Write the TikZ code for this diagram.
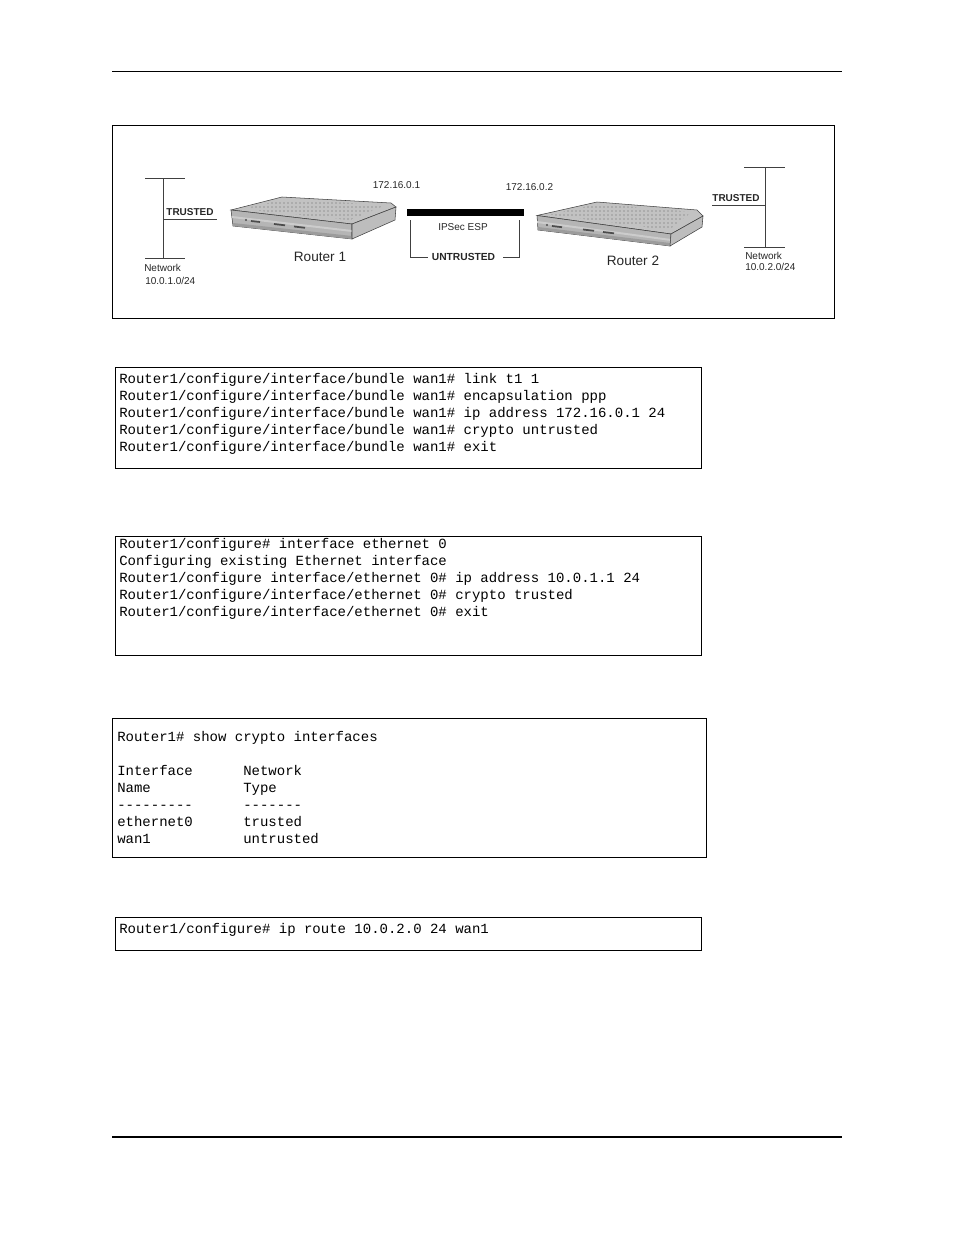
\documentclass[tikz,border=0pt]{standalone}
\usepackage{fontspec}
\setsansfont{Liberation Sans}
\setmonofont{Liberation Mono}
\usetikzlibrary{patterns,positioning}

\begin{document}
\begin{tikzpicture}[x=0.75pt,y=-0.75pt,
  frame/.style={draw=black,line width=0.75pt},
  net line/.style={draw=black!75,line width=0.75pt},
  addr/.style={font=\sffamily\fontsize{7.5}{9}\selectfont,text=black!85,inner sep=0pt},
  zone/.style={font=\sffamily\bfseries\fontsize{7.5}{9}\selectfont,text=black!85,inner sep=0pt},
  router label/.style={font=\sffamily\fontsize{10.2}{12}\selectfont,text=black!85,inner sep=0pt},
  code/.style={anchor=base west,inner sep=0pt,font=\ttfamily\fontsize{10.5}{12.75}\selectfont},
  box edge/.style={draw=gray!50!black,line width=0.4pt},
  port/.style={draw=black!70,line width=1.3pt}]
\useasboundingbox (0,0) rectangle (954,1235);
\draw[line width=0.75pt] (112,71) -- (842,71);
\draw[line width=1.6pt] (112,1137) -- (842,1137);

% network diagram
\draw[frame] (112,125) rectangle (834,318);
\begin{scope}[every node/.style={addr}]
\coordinate (n1a) at (145,178);
\coordinate (n1b) at (185,178);
\coordinate (n1c) at (163,178);
\coordinate (n1d) at (163,258);
\coordinate (n1e) at (145,258);
\coordinate (n1f) at (185,258);
\coordinate (n1g) at (163,219);
\coordinate (n1h) at (217,219);
\node[zone] (t1) at (190,212) {TRUSTED};
\node[anchor=west] (net1) at (144,268) {Network};
\node[anchor=west] (ip1) at (145,281) {10.0.1.0/24};
\coordinate (n2a) at (744,167);
\coordinate (n2b) at (785,167);
\coordinate (n2c) at (765,167);
\coordinate (n2d) at (765,247);
\coordinate (n2e) at (744,247);
\coordinate (n2f) at (785,247);
\coordinate (n2g) at (712,205);
\coordinate (n2h) at (765,205);
\node[zone] (t2) at (736,198) {TRUSTED};
\node[anchor=west] (net2) at (745,256) {Network};
\node[anchor=west] (ip2) at (745,267) {10.0.2.0/24};
\node (wan1) at (396.5,185.5) {172.16.0.1};
\node (wan2) at (529.5,187) {172.16.0.2};
\node (esp) at (463,227.5) {IPSec ESP};
\node[zone,font=\sffamily\bfseries\fontsize{7.7}{9}\selectfont] (untr) at (463.5,257) {UNTRUSTED};
\node[fill=black,minimum width=87.75pt,minimum height=5.25pt] (tunnel) at (465.5,212.5) {};
\end{scope}
\draw[net line] (n1a) -- (n1b);
\draw[net line] (n1c) -- (n1d);
\draw[net line] (n1e) -- (n1f);
\draw[net line] (n1g) -- (n1h);
\draw[net line] (n2a) -- (n2b);
\draw[net line] (n2c) -- (n2d);
\draw[net line] (n2e) -- (n2f);
\draw[net line] (n2g) -- (n2h);
\coordinate (bl) at (410,220);
\coordinate (blb) at (410,257);
\coordinate (blr) at (428,257);
\coordinate (br) at (519,220);
\coordinate (brb) at (519,257);
\coordinate (brl) at (503,257);
\draw[net line] (bl) -- (blb) -- (blr);
\draw[net line] (br) -- (brb) -- (brl);

% router 1
\filldraw[box edge,fill=gray!48] (231,210) -- (282,197) -- (391,203) -- (396,207) -- (352,224) -- cycle;
\fill[pattern=dots,pattern color=gray!80!black] (242,209) -- (284,199.5) -- (386,205) -- (350,220) -- cycle;
\filldraw[box edge,fill=gray!58] (231,210) -- (352,224) -- (352,239) -- (233,226) -- cycle;
\fill[gray!40] (232,216) -- (352,230) -- (352,232) -- (232,218) -- cycle;
\fill[gray!78] (233,223) -- (352,236) -- (352,239) -- (233,226) -- cycle;
\filldraw[box edge,fill=gray!52] (352,224) -- (396,207) -- (395,220) -- (352,239) -- cycle;
\draw[port] (251,221) -- ++(9,1);
\draw[port] (274,224) -- ++(11,1.3);
\draw[port] (294,226.5) -- ++(11,1.3);
\fill[black!70] (246,220) circle (1.2);
\coordinate (r1) at (315,218);
\node[router label] (r1name) at (320,256.5) {Router 1};

% router 2
\filldraw[box edge,fill=gray!48] (537,215.5) -- (597,202) -- (697,210) -- (703,216) -- (671,234) -- cycle;
\fill[pattern=dots,pattern color=gray!80!black] (549,214.5) -- (598,204) -- (692,212) -- (669,230) -- cycle;
\filldraw[box edge,fill=gray!58] (537,215.5) -- (671,234) -- (670,246) -- (538,230) -- cycle;
\fill[gray!40] (537,221) -- (671,239) -- (671,241) -- (537,223) -- cycle;
\fill[gray!78] (538,227) -- (670,243) -- (670,246) -- (538,230) -- cycle;
\filldraw[box edge,fill=gray!52] (671,234) -- (703,216) -- (702,227) -- (670,246) -- cycle;
\draw[port] (552,226) -- ++(10,1.2);
\draw[port] (583,229.5) -- ++(11,1.3);
\draw[port] (603,232) -- ++(11,1.3);
\fill[black!70] (547,225) circle (1.2);
\coordinate (r2) at (620,225);
\node[router label] (r2name) at (633,260.5) {Router 2};

% bundle wan1
\draw[frame] (115,367) rectangle (701,468);
\node[code] (c11) at (119,383) {Router1/configure/interface/bundle wan1\# link t1 1};
\node[code] (c12) at (119,400) {Router1/configure/interface/bundle wan1\# encapsulation ppp};
\node[code] (c13) at (119,417) {Router1/configure/interface/bundle wan1\# ip address 172.16.0.1 24};
\node[code] (c14) at (119,434) {Router1/configure/interface/bundle wan1\# crypto untrusted};
\node[code] (c15) at (119,451) {Router1/configure/interface/bundle wan1\# exit};

% ethernet 0
\draw[frame] (115,536) rectangle (701,655);
\node[code] (c21) at (119,548.5) {Router1/configure\# interface ethernet 0};
\node[code] (c22) at (119,565.5) {Configuring existing Ethernet interface};
\node[code] (c23) at (119,582.5) {Router1/configure interface/ethernet 0\# ip address 10.0.1.1 24};
\node[code] (c24) at (119,599.5) {Router1/configure/interface/ethernet 0\# crypto trusted};
\node[code] (c25) at (119,616.5) {Router1/configure/interface/ethernet 0\# exit};

% show crypto interfaces
\draw[frame] (112,718) rectangle (706,857);
\node[code] (c31) at (117,741) {Router1\# show crypto interfaces};
\node[code] (c32) at (117,775) {Interface};
\node[code] (c33) at (117,792) {Name};
\node[code] (c34) at (117,809) {---------};
\node[code] (c35) at (117,826) {ethernet0};
\node[code] (c36) at (117,843) {wan1};
\node[code] (d32) at (243,775) {Network};
\node[code] (d33) at (243,792) {Type};
\node[code] (d34) at (243,809) {-------};
\node[code] (d35) at (243,826) {trusted};
\node[code] (d36) at (243,843) {untrusted};

% ip route
\draw[frame] (115,917) rectangle (701,950);
\node[code] (c41) at (119,933) {Router1/configure\# ip route 10.0.2.0 24 wan1};
\end{tikzpicture}
\end{document}
